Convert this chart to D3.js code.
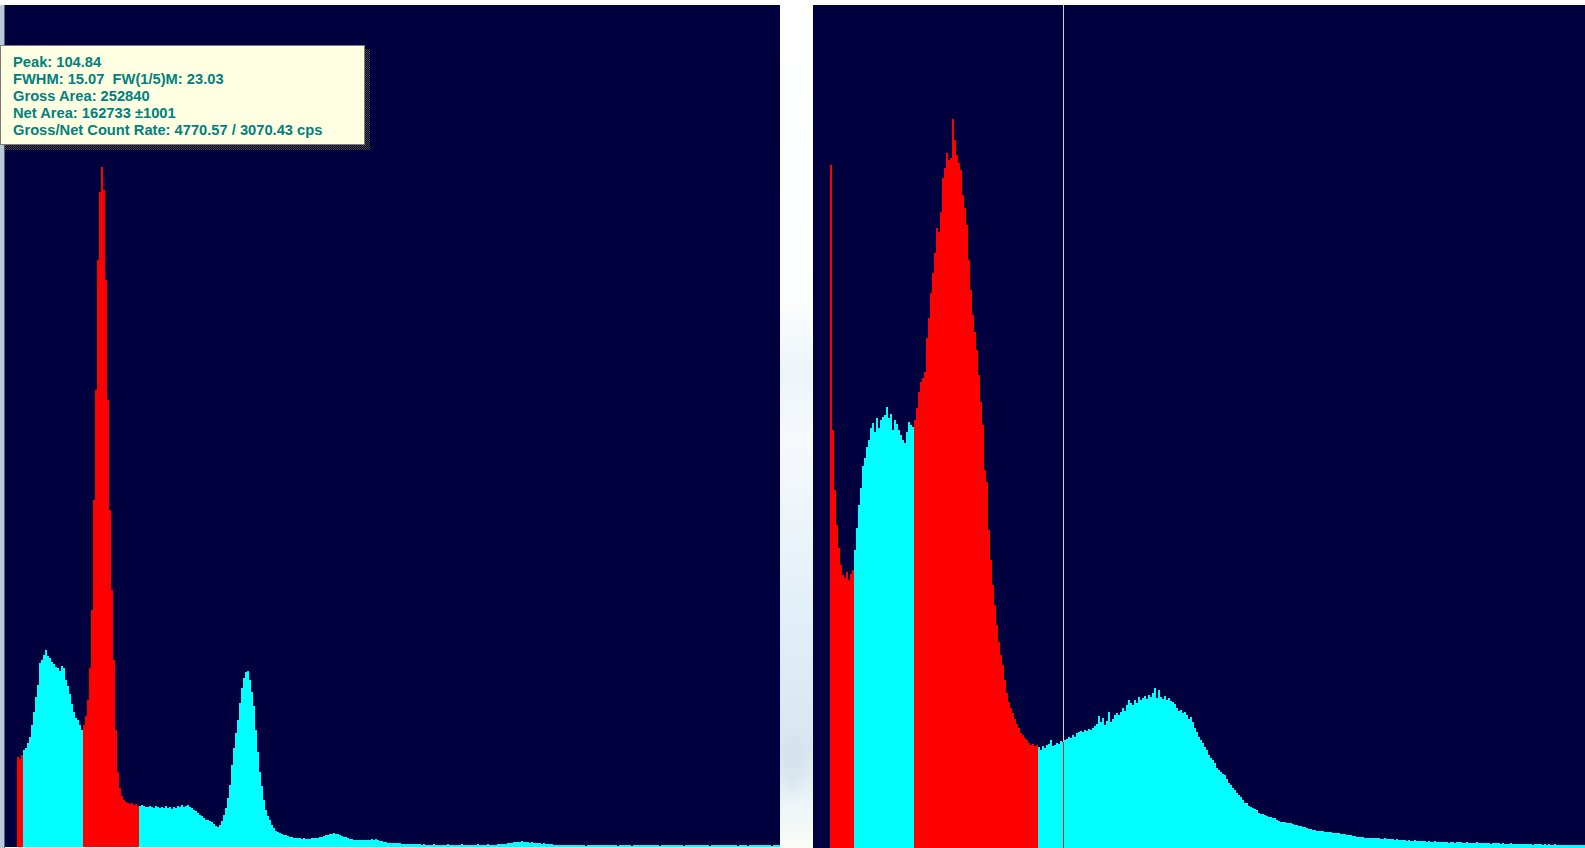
<!DOCTYPE html>
<html>
<head>
<meta charset="utf-8">
<script src="https://cdn.jsdelivr.net/npm/d3@7"></script>
<style>
  html, body { margin: 0; padding: 0; overflow: hidden; background: #ffffff; }
  svg { display: block; }
</style>
</head>
<body>
<svg id="chart" width="1585" height="848"></svg>
<script>
// ---- Spectrum data (counts per channel) ----
const leftCounts = [
  0,0,0,0,0,0,
  90,88,92,
  97,99,104,110,122,135,150,162,184,187,192,197,191,189,185,183,180,179,176,181,179,167,161,153,143,135,129,127,122,117,
  122,131,147,179,237,347,457,587,655,680,657,567,447,337,257,187,117,75,59,51,47,45,44,43,44,42,43,41,
  41,42,41,40,40,41,40,39,41,40,39,40,39,41,39,40,38,40,39,41,40,42,40,41,42,40,39,37,36,34,32,31,29,27,27,26,25,23,21,20,
  22,26,32,39,49,62,82,99,114,127,144,159,169,175,176,167,155,141,117,95,75,61,47,37,31,27,22,19,16,15,14,13,12,12,11,10,10,9,9,9,9,
  8,9,8,8,8,9,9,9,9,10,10,11,12,12,13,13,14,13,13,12,11,10,10,9,8,8,7,7,7,7,7,7,7,7,7,8,7,8,7,
  6,6,5,5,4,4,4,4,4,4,4,
  3,3,3,3,3,3,3,3,3,3,
  2,3,2,2,2,2,3,2,2,2,2,2,2,3,2,2,2,2,2,2,3,2,2,2,2,2,2,2,3,2,2,2,2,3,2,2,2,2,3,3,
  3,3,3,4,4,
  4,5,5,5,5,6,5,5,5,4,5,
  4,4,4,4,3,4,
  3,3,3,3,2,
  2,2,2,2,2,2,2,2,2,2,
  2,2,2,2,2,1,2,2,2,2,
  2,2,2,2,2,2,2,2,2,2,
  2,1,2,2,2,2,2,2,1,2,
  2,2,2,2,2,2,2,2,2,2,
  2,2,1,2,2,2,2,2,2,2,
  2,2,2,2,1,2,2,2,2,2,
  2,2,2,2,2,2,2,1,2,2,
  2,2,2,2,2,2,2,2,2,2,
  2,1,2,2,2,2,1,2,2,2,
  2,2,2,2,2,2,2,2,1,2,
  2,2,2
];
// regions of interest, inclusive channel ranges
const leftRois = [[6, 8], [39, 66]];

const rightCounts = [
  0,0,0,0,0,0,0,0,0,
  683,418,358,323,300,283,273,270,276,268,274,278,
  298,320,343,360,382,390,401,408,420,425,416,430,420,428,431,433,441,430,434,418,428,424,418,413,408,405,416,426,423,421,
  428,440,456,466,470,476,510,530,555,575,595,620,616,636,670,680,695,688,690,729,708,693,685,678,653,640,623,588,558,533,
  516,498,473,446,423,378,366,318,288,263,243,223,206,193,183,168,155,146,140,135,129,124,120,115,113,110,108,105,103,104,102,103,
  101,98,102,100,103,104,108,102,103,105,104,107,106,108,109,111,110,113,111,115,116,117,116,118,117,119,118,120,122,124,
  132,126,130,123,127,136,126,129,133,135,133,136,140,137,143,148,145,143,148,145,151,148,150,152,149,153,151,155,160,150,
  158,151,149,152,148,150,147,146,144,140,137,138,135,136,133,129,131,126,120,116,111,108,105,101,98,93,90,88,85,80,
  78,76,74,73,69,65,63,60,58,55,53,51,48,45,45,42,41,40,39,38,35,34,34,33,32,31,31,30,30,28,
  27,26,26,26,25,25,25,24,23,23,22,
  22,21,21,20,19, 19,18,18,17,17, 17,17,16,16,16, 16,15,15,15,15, 14,14,14,13,13,
  13,12,12,11,11, 11,11,10,10,10, 10,10,10,10,10, 9,9,10,9,9, 9,9,8,9,8,
  8,8,8,7,8,7,7,8,7,7,
  7,7,7,6,7,6,6,7,6,6,
  6,6,6,6,5,6,6,5,6,6,
  6,5,5,6,5,5,5,5,6,5,
  5,5,5,5,5,4,5,5,5,5,
  4,5,4,4,4,5,4,4,4,4,
  4,4,4,4,4,4,3,4,4,4,
  4,3,4,3,4,3,3,4,3,3,
  3,3,3,3,3,3,3,3,3,3,3,3,3
];
const rightRois = [[9, 20], [51, 112]];
const rightCursorChannel = 125.5;

const peakInfoLines = [
  "Peak: 104.84",
  "FWHM: 15.07  FW(1/5)M: 23.03",
  "Gross Area: 252840",
  "Net Area: 162733 \u00B11001",
  "Gross/Net Count Rate: 4770.57 / 3070.43 cps"
];

// ---- Drawing ----
const W = 1585, H = 848;
const svg = d3.select("#chart");
const defs = svg.append("defs");

const NAVY = "#01003f", CYAN = "#00ffff", RED = "#ff0000";

// desktop strip between the two windows
const sky = defs.append("linearGradient").attr("id", "sky")
  .attr("x1", 0).attr("y1", 0).attr("x2", 0).attr("y2", 1);
[[0, "#ffffff"], [0.36, "#fbfdfe"], [0.44, "#edf4f9"], [0.52, "#f6f9fc"],
 [0.74, "#e0eef7"], [0.88, "#d8e6ef"], [0.95, "#edf5f9"], [1, "#fafcf6"]]
  .forEach(([o, c]) => sky.append("stop").attr("offset", o).attr("stop-color", c));
const blur = defs.append("filter").attr("id", "soft")
  .attr("x", "-50%").attr("y", "-50%").attr("width", "200%").attr("height", "200%");
blur.append("feGaussianBlur").attr("stdDeviation", 7);

svg.append("rect").attr("x", 0).attr("y", 0).attr("width", W).attr("height", H).attr("fill", "#ffffff");
svg.append("rect").attr("x", 780).attr("y", 0).attr("width", 33).attr("height", H).attr("fill", "url(#sky)");
svg.append("ellipse").attr("cx", 792).attr("cy", 765).attr("rx", 12).attr("ry", 28)
  .attr("fill", "#ccdae5").attr("opacity", 0.45).attr("filter", "url(#soft)");

// left window frame edge
svg.append("rect").attr("x", 0).attr("y", 5).attr("width", 4).attr("height", H - 5).attr("fill", "#b9c9dc");
svg.append("rect").attr("x", 4).attr("y", 5).attr("width", 1).attr("height", H - 5).attr("fill", "#5a6272");

function drawPanel(cfg) {
  const g = svg.append("g");
  const clipId = cfg.id + "-clip";
  defs.append("clipPath").attr("id", clipId)
    .append("rect").attr("x", cfg.x0).attr("y", cfg.y0)
    .attr("width", cfg.x1 - cfg.x0).attr("height", cfg.y1 - cfg.y0);

  g.append("rect").attr("x", cfg.x0).attr("y", cfg.y0)
    .attr("width", cfg.x1 - cfg.x0).attr("height", cfg.y1 - cfg.y0).attr("fill", NAVY);

  const x = d3.scaleLinear().domain([0, cfg.counts.length])
    .range([cfg.chX, cfg.chX + 2 * cfg.counts.length]);
  const y = d3.scaleLinear().domain([0, cfg.yMax]).range([cfg.y1, cfg.y0]);
  const inRoi = i => cfg.rois.some(([a, b]) => i >= a && i <= b);

  const bars = g.append("g").attr("clip-path", `url(#${clipId})`).attr("shape-rendering", "crispEdges");
  bars.selectAll("rect").data(cfg.counts).join("rect")
    .attr("x", (d, i) => x(i))
    .attr("width", (d, i) => x(i + 1) - x(i))
    .attr("y", d => y(d))
    .attr("height", d => y(0) - y(d))
    .attr("fill", (d, i) => inRoi(i) ? RED : CYAN);

  return { g, x, y, clipId };
}

drawPanel({ id: "left", x0: 5, x1: 780, y0: 5, y1: 847, chX: 5, yMax: 842,
            counts: leftCounts, rois: leftRois });
const right = drawPanel({ id: "right", x0: 813, x1: 1585, y0: 5, y1: 848, chX: 812, yMax: 843,
            counts: rightCounts, rois: rightRois });

// channel cursor in the right window
const cx = Math.round(right.x(rightCursorChannel));
const cv = rightCounts[Math.floor(rightCursorChannel)];
const cursor = right.g.append("g").attr("shape-rendering", "crispEdges");
cursor.append("rect").attr("x", cx).attr("width", 1)
  .attr("y", 5).attr("height", right.y(cv) - 5).attr("fill", "#d6cfb2");
cursor.append("rect").attr("x", cx).attr("width", 1)
  .attr("y", right.y(cv)).attr("height", right.y(0) - right.y(cv)).attr("fill", "#d42a2a");

// peak information tooltip
const pat = defs.append("pattern").attr("id", "dither")
  .attr("width", 2).attr("height", 2).attr("patternUnits", "userSpaceOnUse");
pat.append("rect").attr("x", 0).attr("y", 0).attr("width", 1).attr("height", 1).attr("fill", "#4c4a30");
pat.append("rect").attr("x", 1).attr("y", 1).attr("width", 1).attr("height", 1).attr("fill", "#4c4a30");

const tip = svg.append("g");
tip.append("rect").attr("x", 365).attr("y", 49).attr("width", 5).attr("height", 101)
  .attr("fill", "url(#dither)").attr("shape-rendering", "crispEdges");
tip.append("rect").attr("x", 4).attr("y", 145).attr("width", 361).attr("height", 5)
  .attr("fill", "url(#dither)").attr("shape-rendering", "crispEdges");
tip.append("rect").attr("x", 0.5).attr("y", 45.5).attr("width", 364).attr("height", 99)
  .attr("fill", "#ffffe1").attr("stroke", "#7c7c7c").attr("stroke-width", 1);
tip.selectAll("text").data(peakInfoLines).join("text")
  .attr("x", 13)
  .attr("y", (d, i) => 66.5 + i * 17)
  .attr("fill", "#008080")
  .attr("font-family", "'Liberation Sans', Arial, sans-serif")
  .attr("font-weight", "bold")
  .attr("font-size", "14.7px")
  .style("white-space", "pre")
  .text(d => d);
</script>
</body>
</html>
